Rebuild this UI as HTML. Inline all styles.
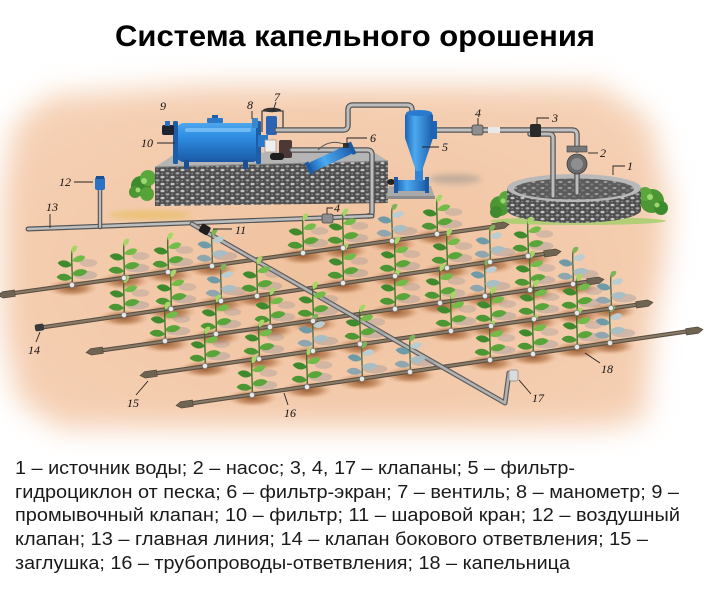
<!DOCTYPE html>
<html>
<head>
<meta charset="utf-8">
<style>
html,body{margin:0;padding:0;background:#fff;}
svg{display:block;}
.lb{font-family:"Liberation Serif",serif;font-style:italic;font-size:12px;fill:#111;}
.ld{stroke:#222;stroke-width:0.9;fill:none;}
</style>
</head>
<body>
<svg width="707" height="600" viewBox="0 0 707 600" xmlns="http://www.w3.org/2000/svg">
<defs>
  <filter id="bl" x="-20%" y="-20%" width="140%" height="140%"><feGaussianBlur stdDeviation="14"/></filter>
  <filter id="bl2" x="-50%" y="-50%" width="200%" height="200%"><feGaussianBlur stdDeviation="3"/></filter>
  <pattern id="grav" width="10" height="7" patternUnits="userSpaceOnUse">
    <rect width="10" height="7" fill="#4e4e4e"/>
    <ellipse cx="2.5" cy="2" rx="2.1" ry="1.3" fill="#c4c4c4"/>
    <ellipse cx="7.5" cy="5.3" rx="2" ry="1.2" fill="#a2a2a2"/>
    <ellipse cx="7.2" cy="1.4" rx="1.1" ry="0.8" fill="#7c7c7c"/>
    <ellipse cx="2.2" cy="5.6" rx="1" ry="0.7" fill="#888"/>
  </pattern>
  <pattern id="grav2" width="9" height="6" patternUnits="userSpaceOnUse">
    <rect width="9" height="6" fill="#5b5b5b"/>
    <ellipse cx="2.5" cy="2" rx="2" ry="1.1" fill="#9a9a9a"/>
    <ellipse cx="6.8" cy="4.5" rx="1.8" ry="1" fill="#7b7b7b"/>
  </pattern>
  <linearGradient id="bluev" x1="0" y1="0" x2="0" y2="1">
    <stop offset="0" stop-color="#4ea6ec"/>
    <stop offset="0.35" stop-color="#2f8ee2"/>
    <stop offset="1" stop-color="#1a58a6"/>
  </linearGradient>
  <linearGradient id="blueh" x1="0" y1="0" x2="1" y2="0">
    <stop offset="0" stop-color="#1c62b4"/>
    <stop offset="0.35" stop-color="#4caaf0"/>
    <stop offset="1" stop-color="#1d5dab"/>
  </linearGradient>
  <radialGradient id="soil" cx="0.5" cy="0.5" r="0.5">
    <stop offset="0" stop-color="#94572e" stop-opacity="0.95"/>
    <stop offset="0.55" stop-color="#b47649" stop-opacity="0.65"/>
    <stop offset="1" stop-color="#e2ab84" stop-opacity="0"/>
  </radialGradient>
  <radialGradient id="peach" cx="0.5" cy="0.55" r="0.6">
    <stop offset="0" stop-color="#f0c19d"/>
    <stop offset="1" stop-color="#f5d0b4"/>
  </radialGradient>
  <g id="pl" transform="scale(1.1)">
    <ellipse cx="12" cy="-9" rx="11" ry="4" fill="#7d8494" opacity=".3"/>
    <ellipse cx="15" cy="-20" rx="8" ry="3.5" fill="#7d8494" opacity=".25"/>
    <path d="M0,0 C1,-10 -1,-20 0,-32" stroke="#3d6a25" stroke-width="1.2" fill="none"/>
    <path d="M0,-6 C-4,-12 -12,-11 -14,-7 C-10,-3 -4,-3 0,-6Z" fill="#4c9633"/>
    <path d="M0,-10 C4,-16 12,-15 14,-12 C10,-7 4,-7 0,-10Z" fill="#5aa53a"/>
    <path d="M0,-18 C-4,-24 -11,-23 -13,-20 C-9,-15 -4,-15 0,-18Z" fill="#3f8a2c"/>
    <path d="M0,-22 C4,-28 11,-28 12,-25 C9,-20 4,-20 0,-22Z" fill="#72bb48"/>
    <path d="M0,-29 C-2,-35 3,-37 5,-35 C4,-31 2,-29 0,-29Z" fill="#a6d665"/>
  </g>
  <g id="pl2" transform="scale(1.1)">
    <ellipse cx="12" cy="-9" rx="11" ry="4" fill="#7d8494" opacity=".3"/>
    <path d="M0,0 C1,-10 -1,-20 0,-30" stroke="#4a6a40" stroke-width="1.2" fill="none"/>
    <path d="M0,-6 C-4,-12 -12,-11 -14,-7 C-10,-3 -4,-3 0,-6Z" fill="#8fa6ae"/>
    <path d="M0,-11 C4,-16 12,-15 14,-12 C10,-7 4,-7 0,-11Z" fill="#a9bec4"/>
    <path d="M0,-18 C-4,-24 -11,-23 -13,-20 C-9,-15 -4,-15 0,-18Z" fill="#6f9aa8"/>
    <path d="M0,-23 C4,-28 10,-28 11,-25 C8,-20 4,-20 0,-23Z" fill="#b9cdd2"/>
    <path d="M0,-28 C-2,-33 3,-35 5,-33 C4,-29 2,-28 0,-28Z" fill="#7fb357"/>
  </g>
  <ellipse id="so" cx="0" cy="3" rx="26" ry="9" fill="url(#soil)"/>
  <circle id="dr" cx="0" cy="0" r="2.6" fill="#e8e8e8" stroke="#7a7a7a" stroke-width="0.7"/>
  <path id="capL" d="M-4,0 L1,-3.2 L13,-3.2 L13,3.2 L1,3.2 Z" fill="#6f6352" stroke="#4e4436" stroke-width="0.6"/>
  <path id="capR" d="M4,0 L-1,-3.2 L-13,-3.2 L-13,3.2 L-1,3.2 Z" fill="#6f6352" stroke="#4e4436" stroke-width="0.6"/>
</defs>

<!-- background -->
<rect width="707" height="600" fill="#fff"/>
<polygon points="50,96 200,86 600,86 650,120 668,200 664,260 652,330 645,420 600,428 60,428 18,400 4,330 4,190 14,125" fill="url(#peach)" filter="url(#bl)"/>

<!-- title -->
<text x="115" y="46" font-family="'Liberation Sans', 'Noto Sans CJK SC', sans-serif" font-weight="bold" font-size="30" fill="#000" textLength="480" lengthAdjust="spacingAndGlyphs">Система капельного орошения</text>

<!-- yellow patch -->
<ellipse cx="150" cy="215" rx="42" ry="4" fill="#e7c063" opacity=".8" filter="url(#bl2)"/>

<!-- platform bush -->
<g>
  <circle cx="141" cy="186" r="10" fill="#3f8a2c"/>
  <circle cx="148" cy="178" r="8" fill="#5aa83c"/>
  <circle cx="135" cy="192" r="6" fill="#4c9633"/>
  <circle cx="147" cy="194" r="7" fill="#57a33a"/>
  <circle cx="144" cy="181" r="3" fill="#9bd870"/>
  <circle cx="138" cy="190" r="2.5" fill="#9bd870"/>
</g>

<!-- platform -->
<polygon points="155,206 388,203 388,161 155,167" fill="url(#grav)"/>
<polygon points="155,167 175,154 372,151 388,161" fill="#b5b5b5"/>
<line x1="155" y1="167" x2="388" y2="161" stroke="#8a8a8a" stroke-width="1"/>

<!-- tank 10 -->
<rect x="176" y="123" width="84" height="39" rx="8" fill="url(#bluev)"/>
<rect x="173" y="121" width="5" height="43" rx="1.5" fill="#1e5ea8"/>
<rect x="256" y="121" width="5" height="43" rx="1.5" fill="#1e5ea8"/>
<rect x="185" y="128" width="66" height="4" rx="2" fill="#9ad6ff" opacity=".55"/>
<rect x="184" y="160" width="5" height="9" fill="#1b4f8f"/>
<rect x="243" y="160" width="5" height="9" fill="#1b4f8f"/>
<rect x="207" y="118" width="16" height="5" rx="1" fill="#2a78c8"/>
<rect x="212" y="115" width="6" height="3" fill="#1e5ea8"/>
<!-- valve 9 -->
<rect x="162" y="125" width="12" height="10" rx="2" fill="#1d2430"/>
<rect x="165" y="121" width="5" height="5" fill="#2a6fc0"/>
<!-- valve cluster 7/8 -->
<rect x="258" y="135" width="10" height="12" fill="#2a78c8"/>
<rect x="252" y="118" width="6" height="10" rx="1" fill="#3a86d0"/>
<path d="M262,132 L262,111 L283,111 L283,132" stroke="#444" stroke-width="1.3" fill="none"/>
<ellipse cx="272" cy="110" rx="9" ry="2.2" fill="#333"/>
<rect x="266" y="116" width="11" height="19" rx="2" fill="#2b64b4"/>
<rect x="265" y="140" width="11" height="12" fill="#efefef" stroke="#999" stroke-width=".7"/>
<rect x="279" y="140" width="13" height="18" rx="2" fill="#4d3838"/>
<rect x="270" y="153" width="14" height="7" rx="3" fill="#1e1e1e"/>

<!-- pipes top -->
<g fill="none" stroke-linecap="round" stroke-linejoin="round">
  <path d="M277,130 L343,130 Q348,130 348,125 L348,110 Q348,105 353,105 L407,105 Q412,105 412,110 L412,114" stroke="#555" stroke-width="5.5"/>
  <path d="M277,130 L343,130 Q348,130 348,125 L348,110 Q348,105 353,105 L407,105 Q412,105 412,110 L412,114" stroke="#bdbdbd" stroke-width="3"/>
  <path d="M292,150 L367,150 Q372,150 372,155 L372,212 Q372,216 368,216" stroke="#555" stroke-width="5.5"/>
  <path d="M292,150 L367,150 Q372,150 372,155 L372,212 Q372,216 368,216" stroke="#bdbdbd" stroke-width="3"/>
  <path d="M433,130 L572,130 Q577,130 577,135 L577,150" stroke="#555" stroke-width="5.5"/>
  <path d="M433,130 L572,130 Q577,130 577,135 L577,150" stroke="#c2c2c2" stroke-width="3"/>
</g>

<!-- screen filter 6 -->
<g transform="translate(331,158) rotate(-25)">
  <rect x="-23" y="-5" width="46" height="10" rx="3" fill="url(#blueh)"/>
  <rect x="-26" y="-6.5" width="4" height="13" fill="#1b5aa5"/>
  <rect x="21" y="-6.5" width="4" height="13" fill="#1b5aa5"/>
</g>
<path d="M318,150 Q330,138 346,145" stroke="#555" stroke-width="1" fill="none"/>
<rect x="343" y="143" width="6" height="5" fill="#333"/>

<!-- hydrocyclone 5 -->
<ellipse cx="455" cy="179" rx="26" ry="5" fill="#8a8a8a" opacity=".45" filter="url(#bl2)"/>
<polygon points="389,186 431,186 435,198 386,198" fill="#a9a9a9"/>
<rect x="386" y="196" width="49" height="3" fill="#8b8b8b"/>
<ellipse cx="391" cy="182" rx="4" ry="3" fill="#222"/>
<rect x="396" y="180" width="31" height="11" rx="2" fill="url(#blueh)"/>
<rect x="394" y="177" width="4" height="16" fill="#1b5aa5"/>
<rect x="425" y="177" width="4" height="16" fill="#1b5aa5"/>
<rect x="415" y="168" width="8" height="13" fill="#2f86d8"/>
<polygon points="405,138 433,138 422,171 416,171" fill="url(#blueh)"/>
<rect x="405" y="113" width="28" height="27" rx="3" fill="url(#blueh)"/>
<ellipse cx="419" cy="113" rx="13" ry="3" fill="#2a7ad0"/>
<rect x="430" y="121" width="7" height="18" fill="#1f64b4"/>

<!-- valves top pipe -->
<rect x="472" y="125" width="11" height="10" rx="2" fill="#8e8e8e" stroke="#444" stroke-width=".8"/>
<rect x="488" y="127" width="12" height="6" fill="#e9e9e9"/>

<!-- well 1 -->
<ellipse cx="578" cy="221" rx="88" ry="4" fill="#a6cf6c" opacity=".85"/>
<g>
  <circle cx="500" cy="206" r="10" fill="#4c9633"/>
  <circle cx="506" cy="198" r="7" fill="#5aa83c"/>
  <circle cx="496" cy="212" r="6" fill="#3f8a2c"/>
  <circle cx="503" cy="201" r="2.5" fill="#9bd870"/>
  <circle cx="652" cy="201" r="12" fill="#4c9633"/>
  <circle cx="645" cy="194" r="7" fill="#5aa83c"/>
  <circle cx="661" cy="208" r="7" fill="#3f8a2c"/>
  <circle cx="650" cy="197" r="3" fill="#9bd870"/>
  <circle cx="657" cy="205" r="2.5" fill="#9bd870"/>
</g>
<path d="M507,188 L507,210 A67,13 0 0 0 641,210 L641,188 Z" fill="url(#grav)"/>
<ellipse cx="574" cy="188" rx="67" ry="14" fill="#b9b9b9"/>
<ellipse cx="574" cy="189" rx="60" ry="10.5" fill="url(#grav2)"/>

<g fill="none" stroke-linecap="round" stroke-linejoin="round">
  <path d="M530,134 L549,134 Q553,134 553,138 L553,196" stroke="#555" stroke-width="5.5"/>
  <path d="M530,134 L549,134 Q553,134 553,138 L553,196" stroke="#bcbcbc" stroke-width="3"/>
  <path d="M577,170 L577,193" stroke="#555" stroke-width="5.5"/>
  <path d="M577,170 L577,193" stroke="#bcbcbc" stroke-width="3"/>
</g>
<!-- valve 3 -->
<rect x="530" y="124" width="11" height="13" rx="2" fill="#2a2a2a"/>
<!-- pump 2 -->
<rect x="567" y="146" width="20" height="6" fill="#777" stroke="#444" stroke-width=".6"/>
<circle cx="577" cy="164" r="10" fill="#6b6b6b" stroke="#3e3e3e" stroke-width=".8"/>
<circle cx="577" cy="164" r="6" fill="#8f8f8f"/>

<!-- soil patches -->
<g>
  <use href="#so" x="72" y="285"/><use href="#so" x="124" y="278"/><use href="#so" x="168" y="272"/><use href="#so" x="212" y="266"/><use href="#so" x="303" y="253"/><use href="#so" x="343" y="248"/><use href="#so" x="392" y="241"/><use href="#so" x="437" y="234"/>
  <use href="#so" x="124" y="315"/><use href="#so" x="171" y="309"/><use href="#so" x="221" y="301"/><use href="#so" x="257" y="296"/><use href="#so" x="343" y="283"/><use href="#so" x="395" y="276"/><use href="#so" x="447" y="268"/><use href="#so" x="490" y="262"/><use href="#so" x="528" y="256"/>
  <use href="#so" x="165" y="341"/><use href="#so" x="216" y="334"/><use href="#so" x="270" y="327"/><use href="#so" x="313" y="321"/><use href="#so" x="395" y="309"/><use href="#so" x="440" y="303"/><use href="#so" x="485" y="296"/><use href="#so" x="530" y="290"/><use href="#so" x="573" y="284"/>
  <use href="#so" x="205" y="366"/><use href="#so" x="259" y="359"/><use href="#so" x="313" y="351"/><use href="#so" x="360" y="344"/><use href="#so" x="451" y="331"/><use href="#so" x="491" y="326"/><use href="#so" x="534" y="319"/><use href="#so" x="577" y="313"/><use href="#so" x="611" y="308"/>
  <use href="#so" x="252" y="395"/><use href="#so" x="307" y="387"/><use href="#so" x="362" y="379"/><use href="#so" x="410" y="372"/><use href="#so" x="490" y="360"/><use href="#so" x="533" y="354"/><use href="#so" x="577" y="347"/><use href="#so" x="610" y="343"/>
</g>

<!-- main line 13 -->
<g fill="none" stroke-linecap="round">
  <path d="M28,229 L372,216" stroke="#555" stroke-width="5"/>
  <path d="M28,229 L372,216" stroke="#bdbdbd" stroke-width="2.6"/>
  <path d="M100,189 L100,227" stroke="#555" stroke-width="4.5"/>
  <path d="M100,189 L100,227" stroke="#bdbdbd" stroke-width="2.2"/>
</g>
<rect x="95" y="177" width="10" height="13" rx="2" fill="#2a72c6"/>
<rect x="96" y="176" width="8" height="3" fill="#1b4f8f"/>
<rect x="322" y="214" width="11" height="9" rx="2" fill="#8e8e8e" stroke="#444" stroke-width=".8"/>

<!-- laterals -->
<g fill="none" stroke-linecap="round">
  <path d="M0,295 L505,225" stroke="#5a4f42" stroke-width="4.2"/>
  <path d="M0,295 L505,225" stroke="#8b7c68" stroke-width="2"/>
  <path d="M38,328 L557,252" stroke="#5a4f42" stroke-width="4.2"/>
  <path d="M38,328 L557,252" stroke="#8b7c68" stroke-width="2"/>
  <path d="M90,352 L600,280" stroke="#5a4f42" stroke-width="4.2"/>
  <path d="M90,352 L600,280" stroke="#8b7c68" stroke-width="2"/>
  <path d="M144,375 L649,303" stroke="#5a4f42" stroke-width="4.2"/>
  <path d="M144,375 L649,303" stroke="#8b7c68" stroke-width="2"/>
  <path d="M180,405 L697,330" stroke="#5a4f42" stroke-width="4.2"/>
  <path d="M180,405 L697,330" stroke="#8b7c68" stroke-width="2"/>
</g>
<g>
  <use href="#capL" transform="translate(2,295) rotate(-8)"/>
  <use href="#capR" transform="translate(505,225) rotate(-8)"/>
  <use href="#capR" transform="translate(557,252) rotate(-8)"/>
  <use href="#capL" transform="translate(90,352) rotate(-8)"/>
  <use href="#capR" transform="translate(600,280) rotate(-8)"/>
  <use href="#capL" transform="translate(144,375) rotate(-8)"/>
  <use href="#capR" transform="translate(649,303) rotate(-8)"/>
  <use href="#capL" transform="translate(180,405) rotate(-8)"/>
  <use href="#capR" transform="translate(699,330) rotate(-8)"/>
  <rect x="35" y="324" width="9" height="7" rx="2" fill="#3a3a3a" transform="rotate(-8 39 328)"/>
</g>

<!-- submain -->
<g fill="none" stroke-linecap="round" stroke-linejoin="round">
  <path d="M192,224 L505,403 L509,373" stroke="#5c5c5c" stroke-width="5"/>
  <path d="M192,224 L505,403 L509,373" stroke="#b3b3b3" stroke-width="2.6"/>
</g>
<rect x="200" y="225" width="10" height="9" rx="2" fill="#1e1e1e" transform="rotate(30 205 229)"/>
<rect x="509" y="370" width="9" height="11" rx="2" fill="#d9dcdc" stroke="#888" stroke-width=".7"/>

<!-- plants -->
<g>
  <use href="#pl" x="72" y="285"/><use href="#pl" x="124" y="278"/><use href="#pl" x="168" y="272"/><use href="#pl2" x="212" y="266"/><use href="#pl" x="303" y="253"/><use href="#pl" x="343" y="248"/><use href="#pl2" x="392" y="241"/><use href="#pl" x="437" y="234"/>
  <use href="#pl" x="124" y="315"/><use href="#pl" x="171" y="309"/><use href="#pl2" x="221" y="301"/><use href="#pl" x="257" y="296"/><use href="#pl" x="343" y="283"/><use href="#pl" x="395" y="276"/><use href="#pl" x="447" y="268"/><use href="#pl2" x="490" y="262"/><use href="#pl" x="528" y="256"/>
  <use href="#pl" x="165" y="341"/><use href="#pl" x="216" y="334"/><use href="#pl" x="270" y="327"/><use href="#pl" x="313" y="321"/><use href="#pl" x="395" y="309"/><use href="#pl" x="440" y="303"/><use href="#pl2" x="485" y="296"/><use href="#pl" x="530" y="290"/><use href="#pl2" x="573" y="284"/>
  <use href="#pl" x="205" y="366"/><use href="#pl" x="259" y="359"/><use href="#pl2" x="313" y="351"/><use href="#pl" x="360" y="344"/><use href="#pl" x="451" y="331"/><use href="#pl" x="491" y="326"/><use href="#pl" x="534" y="319"/><use href="#pl" x="577" y="313"/><use href="#pl2" x="611" y="308"/>
  <use href="#pl" x="252" y="395"/><use href="#pl" x="307" y="387"/><use href="#pl2" x="362" y="379"/><use href="#pl2" x="410" y="372"/><use href="#pl" x="490" y="360"/><use href="#pl" x="533" y="354"/><use href="#pl" x="577" y="347"/><use href="#pl2" x="610" y="343"/>
</g>
<!-- drippers -->
<g>
  <use href="#dr" x="72" y="285"/><use href="#dr" x="124" y="278"/><use href="#dr" x="168" y="272"/><use href="#dr" x="212" y="266"/><use href="#dr" x="303" y="253"/><use href="#dr" x="343" y="248"/><use href="#dr" x="392" y="241"/><use href="#dr" x="437" y="234"/>
  <use href="#dr" x="124" y="315"/><use href="#dr" x="171" y="309"/><use href="#dr" x="221" y="301"/><use href="#dr" x="257" y="296"/><use href="#dr" x="343" y="283"/><use href="#dr" x="395" y="276"/><use href="#dr" x="447" y="268"/><use href="#dr" x="490" y="262"/><use href="#dr" x="528" y="256"/>
  <use href="#dr" x="165" y="341"/><use href="#dr" x="216" y="334"/><use href="#dr" x="270" y="327"/><use href="#dr" x="313" y="321"/><use href="#dr" x="395" y="309"/><use href="#dr" x="440" y="303"/><use href="#dr" x="485" y="296"/><use href="#dr" x="530" y="290"/><use href="#dr" x="573" y="284"/>
  <use href="#dr" x="205" y="366"/><use href="#dr" x="259" y="359"/><use href="#dr" x="313" y="351"/><use href="#dr" x="360" y="344"/><use href="#dr" x="451" y="331"/><use href="#dr" x="491" y="326"/><use href="#dr" x="534" y="319"/><use href="#dr" x="577" y="313"/><use href="#dr" x="611" y="308"/>
  <use href="#dr" x="252" y="395"/><use href="#dr" x="307" y="387"/><use href="#dr" x="362" y="379"/><use href="#dr" x="410" y="372"/><use href="#dr" x="490" y="360"/><use href="#dr" x="533" y="354"/><use href="#dr" x="577" y="347"/><use href="#dr" x="610" y="343"/>
</g>

<!-- labels & leaders -->
<g class="ld">
  <path d="M157,143 L175,143"/>
  <path d="M252,111 L252,119"/>
  <path d="M276,102 L273,111"/>
  <path d="M347,146 L347,138 L367,138"/>
  <path d="M422,147 L439,147"/>
  <path d="M478,118 L478,125"/>
  <path d="M537,124 L537,118 L549,118"/>
  <path d="M588,153 L598,153"/>
  <path d="M613,175 L613,166 L625,166"/>
  <path d="M74,182 L93,182"/>
  <path d="M50,214 L50,228"/>
  <path d="M327,214 L327,208 L333,208"/>
  <path d="M213,229 L232,229"/>
  <path d="M40,332 L36,342"/>
  <path d="M148,381 L136,395"/>
  <path d="M284,393 L288,405"/>
  <path d="M519,380 L531,394"/>
  <path d="M585,353 L600,363"/>
</g>
<g class="lb">
  <text x="160" y="110">9</text>
  <text x="141" y="147">10</text>
  <text x="247" y="109">8</text>
  <text x="274" y="101">7</text>
  <text x="370" y="142">6</text>
  <text x="442" y="151">5</text>
  <text x="475" y="117">4</text>
  <text x="552" y="122">3</text>
  <text x="600" y="157">2</text>
  <text x="627" y="170">1</text>
  <text x="59" y="186">12</text>
  <text x="46" y="211">13</text>
  <text x="334" y="212">4</text>
  <text x="235" y="234">11</text>
  <text x="28" y="354">14</text>
  <text x="127" y="407">15</text>
  <text x="284" y="417">16</text>
  <text x="532" y="402">17</text>
  <text x="601" y="373">18</text>
</g>

<!-- caption -->
<g font-family="'Liberation Sans', 'Noto Sans CJK SC', sans-serif" font-size="18" fill="#1a1a1a">
  <text x="15" y="474" textLength="560" lengthAdjust="spacingAndGlyphs">1 – источник воды; 2 – насос; 3, 4, 17 – клапаны; 5 – фильтр-</text>
  <text x="15" y="498" textLength="664" lengthAdjust="spacingAndGlyphs">гидроциклон от песка; 6 – фильтр-экран; 7 – вентиль; 8 – манометр; 9 –</text>
  <text x="15" y="521" textLength="665" lengthAdjust="spacingAndGlyphs">промывочный клапан; 10 – фильтр; 11 – шаровой кран; 12 – воздушный</text>
  <text x="15" y="545" textLength="633" lengthAdjust="spacingAndGlyphs">клапан; 13 – главная линия; 14 – клапан бокового ответвления; 15 –</text>
  <text x="15" y="569" textLength="555" lengthAdjust="spacingAndGlyphs">заглушка; 16 – трубопроводы-ответвления; 18 – капельница</text>
</g>
</svg>
</body>
</html>
